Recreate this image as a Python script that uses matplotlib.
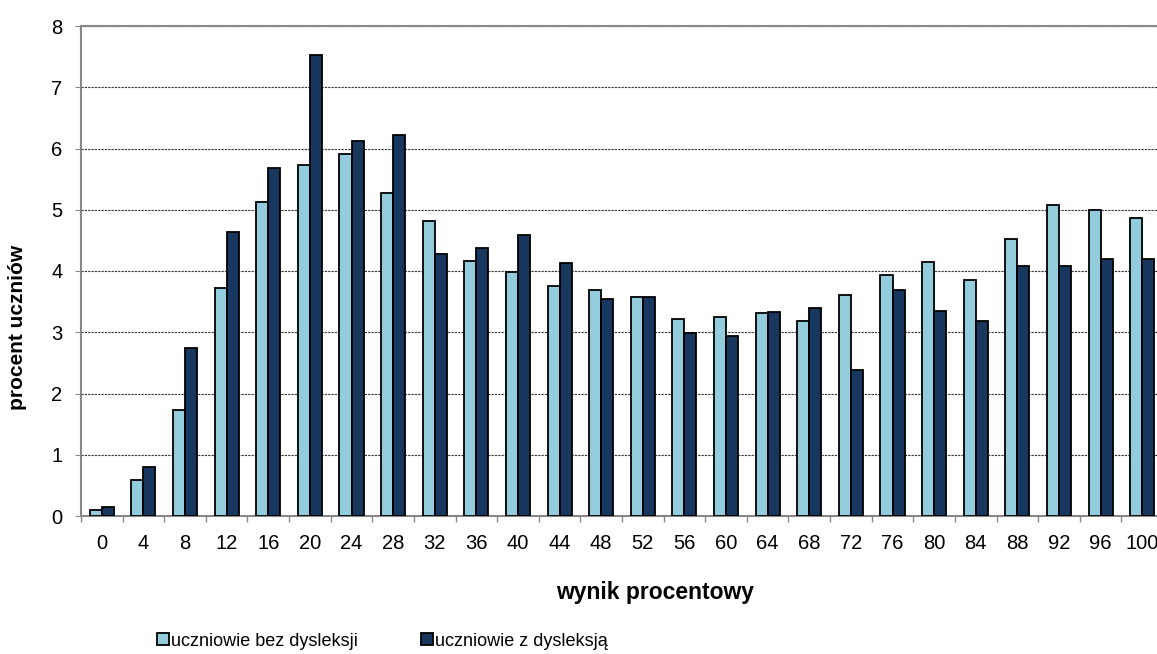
import numpy as np
import matplotlib.pyplot as plt
from matplotlib import font_manager

plt.rcParams['font.family'] = ['Liberation Sans', 'DejaVu Sans']

wynik = [0, 4, 8, 12, 16, 20, 24, 28, 32, 36, 40, 44, 48, 52, 56, 60, 64, 68, 72,
         76, 80, 84, 88, 92, 96, 100]
bez_dysleksji = [0.09, 0.59, 1.73, 3.72, 5.12, 5.73, 5.91, 5.27, 4.82, 4.16, 3.99,
                 3.76, 3.69, 3.57, 3.22, 3.25, 3.32, 3.19, 3.61, 3.93, 4.14, 3.86,
                 4.52, 5.07, 5.00, 4.87]
z_dysleksja = [0.15, 0.80, 2.74, 4.63, 5.68, 7.52, 6.12, 6.22, 4.28, 4.38, 4.58,
               4.13, 3.54, 3.58, 2.99, 2.94, 3.33, 3.39, 2.39, 3.69, 3.34, 3.19,
               4.08, 4.08, 4.19, 4.19]

fig = plt.figure(figsize=(11.57, 6.54), dpi=100)
ax = fig.add_axes([81 / 1157, 1 - 516 / 654, 1082 / 1157, 490 / 654])

x = np.arange(len(wynik))
w = 0.29
ax.bar(x - w / 2, bez_dysleksji, w, color='#93CDDD', edgecolor='black', linewidth=1.3,
       label='uczniowie bez dysleksji', zorder=3)
ax.bar(x + w / 2, z_dysleksja, w, color='#17375E', edgecolor='black', linewidth=1.3,
       label='uczniowie z dysleksją', zorder=3)

ax.set_xlim(-0.5, len(wynik) - 0.5)
ax.set_ylim(0, 8)
ax.set_yticks(range(0, 9))
ax.set_xticks(x)
ax.set_xticklabels([str(v) for v in wynik])
ax.set_xticks(np.arange(-0.5, len(wynik), 1), minor=True)
ax.tick_params(axis='x', which='major', length=0, pad=13, labelsize=14.5)
ax.tick_params(axis='x', which='minor', length=4.5, color='#888888', width=1)
ax.tick_params(axis='y', length=4.5, color='#888888', labelsize=14.5, pad=9)
ax.yaxis.grid(True, linestyle=(0, (2, 1)), color='#333333', linewidth=0.8, zorder=0)

for s in ['left', 'bottom', 'top']:
    ax.spines[s].set_color('#888888')
    ax.spines[s].set_linewidth(1.5)
ax.spines['right'].set_visible(False)

fig.text(18 / 1157, 1 - 327 / 654, 'procent uczniów', fontsize=15, fontweight='bold',
         ha='center', va='center', rotation=90)
fig.text(655 / 1157, 1 - 592 / 654, 'wynik procentowy', fontsize=16.5, fontweight='bold',
         ha='center', va='center')

# legend text in the original is narrow and tall
try:
    font_manager.findfont('Liberation Sans Narrow', fallback_to_default=False)
    leg_font = {'family': 'Liberation Sans Narrow', 'size': 16}
except ValueError:
    leg_font = {'family': 'Liberation Sans', 'size': 13}
sq = 12 / (leg_font['size'] * 100 / 72)

fig.legend(loc='center left', bbox_to_anchor=(157 / 1157, 1 - 641 / 654), ncol=2,
           frameon=False, prop=leg_font, handlelength=sq, handleheight=sq,
           handletextpad=0.12, columnspacing=63 / (leg_font['size'] * 100 / 72),
           borderpad=0, borderaxespad=0)

fig.savefig('out.png', dpi=100)
